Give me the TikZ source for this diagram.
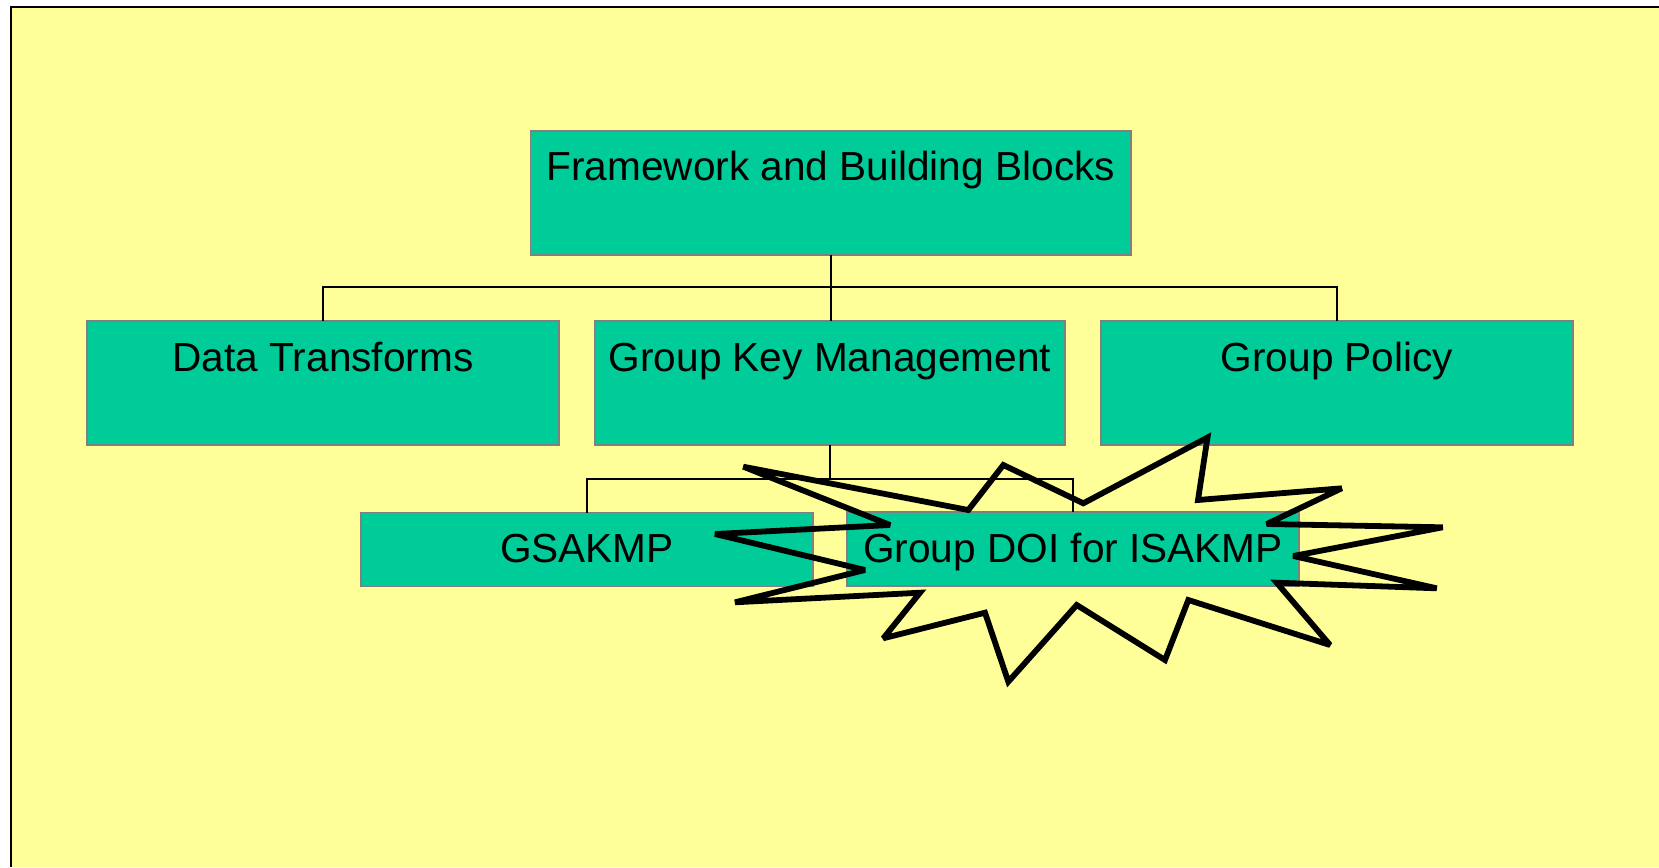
\documentclass[tikz,border=0pt]{standalone}
\usepackage{fontspec}
\setmainfont{Liberation Sans}
\definecolor{slidebg}{HTML}{FFFF99}
\definecolor{boxgreen}{HTML}{00CC99}
\definecolor{boxedge}{HTML}{808080}
\begin{document}
\begin{tikzpicture}[x=0.5pt,y=-0.5pt,
  blockbox/.style={draw=boxedge, line width=0.8pt, fill=boxgreen, rectangle,
    anchor=north west, inner sep=0pt, outer sep=0pt, font=\fontsize{20.3pt}{24pt}\selectfont,
    text height=25pt},
  tallbox/.style={blockbox, text depth=37pt},
  flatbox/.style={blockbox, text depth=12pt},
  link/.style={draw=black, line width=0.8pt},
  burst/.style={draw=black, line width=2.9pt, line join=miter, miter limit=3}]
  % page and slide area
  \useasboundingbox (0,0) rectangle (1659,867);
  \fill[white] (0,0) rectangle (1659,867);
  \fill[slidebg] (11,6.5) rectangle (1659,867);
  \draw[line width=1pt] (11,867) -- (11,6.5) -- (1659,6.5);

  % hierarchy blocks
  \node[tallbox, minimum width=300.25pt] (fb) at (530.5,130.7) {Framework and Building Blocks};
  \node[tallbox, minimum width=236pt] (dt) at (87,321) {Data Transforms};
  \node[tallbox, minimum width=235pt] (gkm) at (595,321) {Group Key Management};
  \node[tallbox, minimum width=236pt] (gp) at (1101,321) {Group Policy};
  \node[flatbox, minimum width=226pt] (gs) at (361,512.5) {GSAKMP};
  \node[flatbox, minimum width=226pt] (doi) at (847,512) {Group DOI for ISAKMP};

  % bus lines
  \coordinate (busA) at (0,287);
  \coordinate (busB) at (0,479);
  \draw[link] (fb.south) -- (fb.south |- gkm.north);
  \draw[link] (dt.north) -- (dt.north |- busA) -- (gp.north |- busA) -- (gp.north);
  \draw[link] (gkm.south) -- (gkm.south |- busB);
  \draw[link] (gs.north) -- (gs.north |- busB) -- (doi.north |- busB) -- (doi.north);

  % explosion outline around the new document
  \draw[burst] (743.3,466.7) -- (968.3,510) -- (1003.3,465) -- (1083.3,503.3)
    -- (1207.5,437.5) -- (1198,500) -- (1341.7,488.3) -- (1266.7,524)
    -- (1442.7,527.3) -- (1293.3,556) -- (1436.7,588.3) -- (1276.7,582.7)
    -- (1330,645) -- (1188.3,600) -- (1165,660) -- (1076.7,605)
    -- (1008.3,681.7) -- (985,612.7) -- (883.3,638.3) -- (920,592.7)
    -- (735,602.3) -- (865,570) -- (715,534) -- (890,525) -- cycle;
\end{tikzpicture}
\end{document}
